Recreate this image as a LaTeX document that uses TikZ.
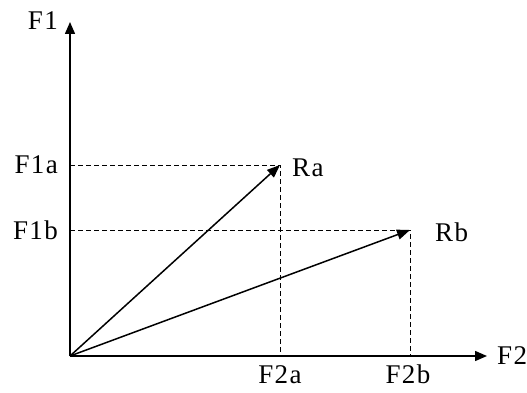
\documentclass[tikz,border=0pt]{standalone}
\usepackage{fontspec}
\setmainfont{Liberation Serif}[LetterSpace=5]
\usetikzlibrary{arrows.meta, positioning}

\begin{document}
\begin{tikzpicture}[x=1pt,y=1pt,font=\fontsize{27}{30}\selectfont]

	\tikzset{
		axis/.style={
				line width=1.5pt, -{Triangle[length=12pt, width=10pt]}
			},
		vec/.style={
				line width=1.5pt, -{Triangle[length=13pt, width=10pt]}
			},
		proj/.style={
				line width=0.9pt, dash pattern=on 5pt off 3pt
			},
		lbl/.style={
				inner sep=0pt
			},
	}
	\useasboundingbox (0,0) rectangle (527,392);

	\coordinate (o) at (70,36);
	\coordinate (f1end) at (70,370);
	\coordinate (f2end) at (487,36);
	\coordinate (ra) at (280,227);
	\coordinate (rb) at (410,162);
	\coordinate (f1a) at (70,227);
	\coordinate (f1b) at (70,162);
	\coordinate (f2a) at (280,36);
	\coordinate (f2b) at (410,36);

	\node[lbl, left=12pt of f1a](tf1a){F1a};
	\node[lbl, left=12pt of f1b](tf1b){F1b};
	\node[lbl, below=9pt of f2a](tf2a){F2a};
	\node[lbl, below=9pt of f2b, xshift=-2pt](tf2b){F2b};
	\node[lbl, right=10pt of f2end](tf2){F2};
	\node[lbl, above left=-8pt and 12pt of f1end](tf1){F1};
	\node[lbl, right=12pt of ra, yshift=-3pt](tra){Ra};
	\node[lbl, right=25pt of rb, yshift=-2pt](trb){Rb};

	\draw[proj] (f1a)--(ra)--(f2a);
	\draw[proj] (f1b)--(rb)--(f2b);
	\draw[axis] (o)--(f1end);
	\draw[axis] (o)--(f2end);
	\draw[vec] (o)--(ra);
	\draw[vec] (o)--(rb);

\end{tikzpicture}
\end{document}
